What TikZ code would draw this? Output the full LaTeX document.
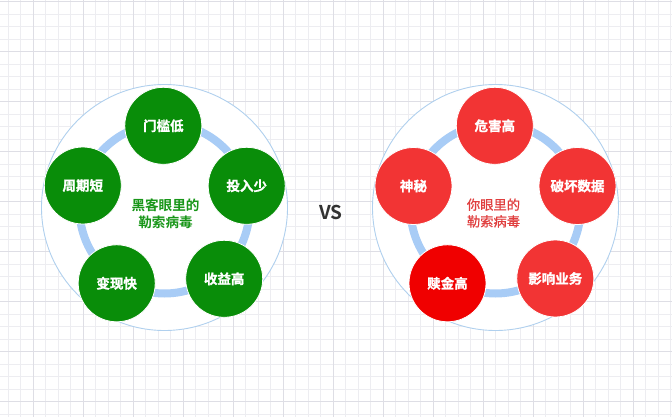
\documentclass[tikz,border=0pt]{standalone}
\usepackage{fontspec}
\newfontfamily\cjkm{Noto Sans CJK SC}[FakeBold=0.7]
\newfontfamily\cjkb{Noto Sans CJK SC Bold}
\newfontfamily\cjkbb{Noto Sans CJK SC Bold}[FakeBold=1.3]
\definecolor{gridminor}{RGB}{237,237,241}
\definecolor{gridmajor}{RGB}{222,222,229}
\definecolor{ringblue}{RGB}{168,204,246}
\definecolor{outerblue}{RGB}{176,208,238}
\definecolor{hgreen}{RGB}{9,141,9}
\definecolor{hgreentext}{RGB}{24,150,24}
\definecolor{hred}{RGB}{242,52,52}
\definecolor{hredstrong}{RGB}{240,0,0}
\definecolor{hredtext}{RGB}{224,62,62}
\definecolor{vsgray}{RGB}{50,50,50}
\tikzset{
  outer/.style={circle, draw=outerblue, line width=0.9pt, fill=white, minimum size=246pt, inner sep=0pt},
  ring/.style={draw=ringblue, line width=8pt},
  gitem/.style={circle, fill=hgreen, draw=white, line width=0.8pt, minimum size=77pt, inner sep=0pt,
     text=white, font=\cjkbb\fontsize{13.5}{15}\selectfont},
  ritem/.style={gitem, fill=hred},
  gcenter/.style={align=center, text=hgreentext, font=\cjkb\fontsize{13.6}{17}\selectfont},
  rcenter/.style={align=center, text=hredtext, font=\cjkm\fontsize{13.3}{16.7}\selectfont},
  vslabel/.style={text=vsgray, font=\cjkb\fontsize{19}{22}\selectfont}
}
\begin{document}
\begin{tikzpicture}[x=1pt,y=-1pt]
\useasboundingbox (0,0) rectangle (672,417);
\fill[white] (0,0) rectangle (672,417);
% grid
\foreach \i in {0,...,53} {
  \draw[gridminor, line width=0.8pt] ({8.3+12.5*\i},0) -- ({8.3+12.5*\i},417);
}
\foreach \j in {0,...,33} {
  \draw[gridminor, line width=0.8pt] (0,{1.5+12.5*\j}) -- (672,{1.5+12.5*\j});
}
\foreach \i in {0,...,13} {
  \draw[gridmajor, line width=0.8pt] ({33.3+50*\i},0) -- ({33.3+50*\i},417);
}
\foreach \j in {0,...,8} {
  \draw[gridmajor, line width=0.8pt] (0,{1.5+50*\j}) -- (672,{1.5+50*\j});
}
% left diagram
\node[outer] (lo) at (164.5,207.5) {};
\draw[ring] (164.5,208.5) circle[radius=85];
\node[gitem] (l1) at (163.3,125.8) {门槛低};
\node[gitem] (l2) at (246.7,185.8) {投入少};
\node[gitem] (l3) at (224.2,278.8) {收益高};
\node[gitem] (l4) at (116.7,283.3) {变现快};
\node[gitem] (l5) at (82.8,185.5) {周期短};
\node[gcenter] (lc) at (165.5,213.5) {黑客眼里的\\勒索病毒};
% VS
\node[vslabel] (vs) at (331,212) {VS};
% right diagram
\node[outer] (ro) at (495.5,207.5) {};
\draw[ring] (495.5,208.5) circle[radius=85];
\node[ritem] (r1) at (494.8,125.8) {危害高};
\node[ritem] (r2) at (577.5,186) {破坏数据};
\node[ritem] (r3) at (555.3,278.5) {影响业务};
\node[ritem, fill=hredstrong] (r4) at (447.5,283.3) {赎金高};
\node[ritem] (r5) at (413.5,186) {神秘};
\node[rcenter] (rc) at (493.5,213) {你眼里的\\勒索病毒};
\end{tikzpicture}
\end{document}
